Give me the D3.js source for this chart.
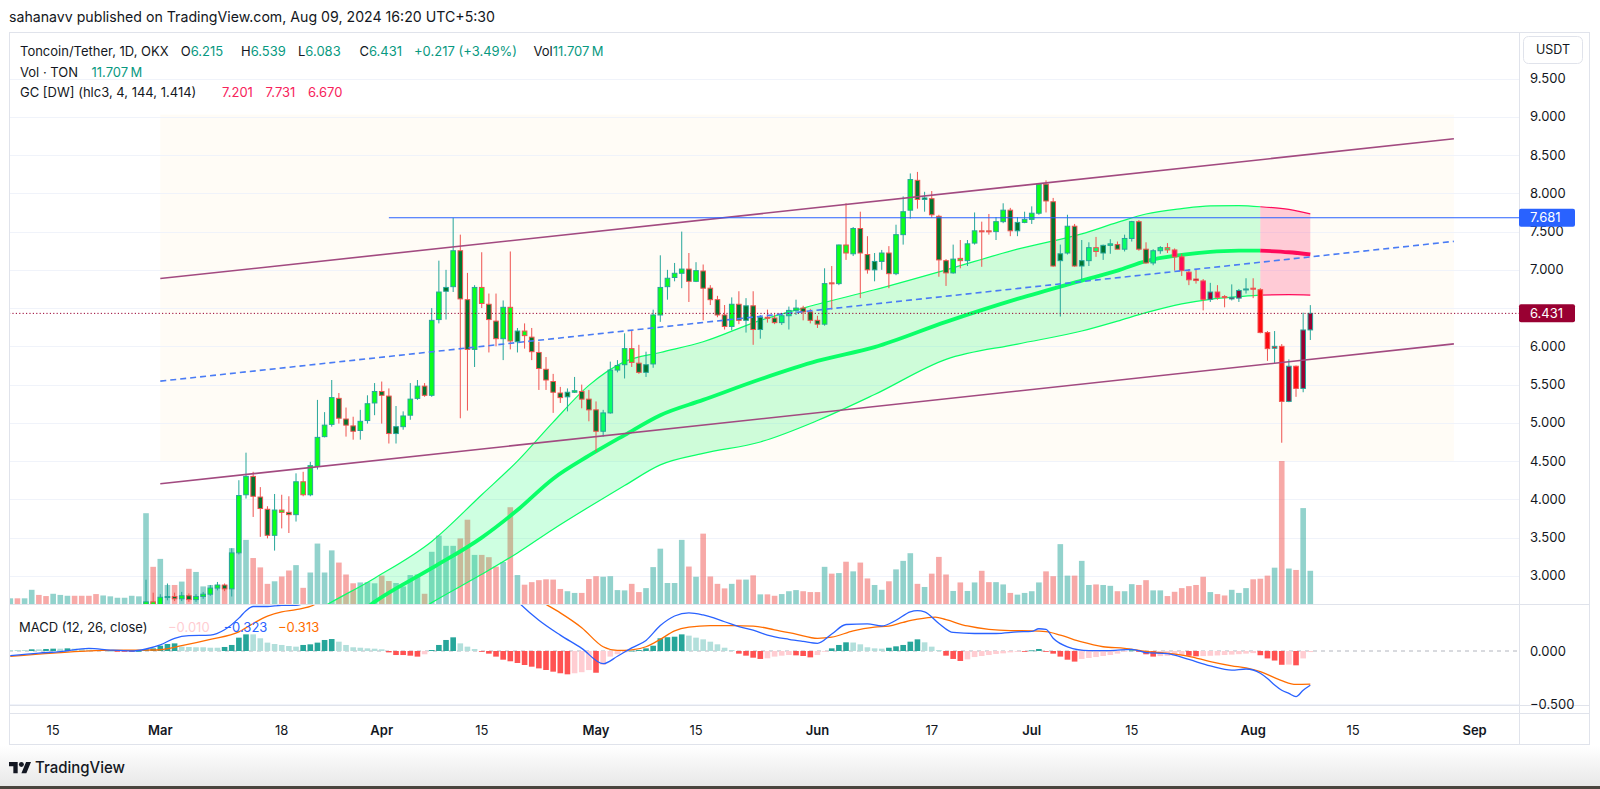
<!DOCTYPE html>
<html><head><meta charset="utf-8">
<script src="https://cdn.jsdelivr.net/npm/d3@7/dist/d3.min.js"></script>
<style>
html,body{margin:0;padding:0;background:#fff;}
svg{display:block;}
</style></head><body>
<svg id="chart" width="1600" height="789"></svg>
<script>
// ---------------- DATA ----------------
// daily candles, first bar = 2024-02-09 (day -21 relative to 2024-03-01), last bar = 2024-08-09
const firstDay = -21;
const opens = [
2.05,2.09,2.06,2.10,2.19,2.14,2.10,2.18,2.22,2.25,2.21,2.17,2.13,2.09,2.14,2.18,2.20,2.23,2.28,2.37,2.66,
2.62,2.72,2.73,2.70,2.74,2.69,2.73,2.76,2.84,2.88,
2.83,3.30,4.06,4.30,4.03,3.87,3.53,3.86,3.83,3.80,
4.23,4.06,4.43,4.82,4.98,5.32,5.05,4.96,4.90,5.03,
5.26,5.41,5.35,4.86,4.95,5.10,5.32,5.48,5.36,6.35,
6.72,6.78,7.25,6.61,5.96,6.77,6.55,6.33,6.10,6.51,
6.06,6.20,6.12,5.92,5.70,5.54,5.39,5.34,5.40,5.41,
5.31,5.17,4.89,5.13,5.69,5.76,5.97,5.78,5.66,5.77,
6.41,6.78,6.90,6.955,7.01,6.85,6.985,6.76,6.61,6.41,
6.26,6.55,6.34,6.53,6.22,6.38,6.37,6.31,6.40,6.47,
6.50,6.45,6.34,6.29,6.83,6.82,7.325,7.21,7.54,7.20,
7.00,7.11,7.22,6.95,7.46,7.78,8.17,7.92,7.93,7.70,
7.12,6.96,7.15,7.12,7.35,7.51,7.51,7.50,7.63,7.78,
7.51,7.62,7.66,7.74,8.12,7.89,7.12,7.22,7.57,7.05,
7.12,7.29,7.22,7.32,7.33,7.27,7.41,7.63,7.27,7.09,
7.25,7.29,7.26,7.17,6.97,6.88,6.855,6.615,6.71,6.65,
6.62,6.63,6.74,6.76,6.74,6.18,5.975,6.00,5.28,5.74,
5.45,6.215];
const highs = [
2.12,2.11,2.12,2.22,2.21,2.16,2.20,2.24,2.28,2.27,2.23,2.19,2.15,2.16,2.20,2.22,2.25,2.30,2.40,2.95,2.78,
2.76,2.90,2.78,2.79,2.77,2.76,2.79,2.88,2.92,2.90,
3.36,4.25,4.61,4.36,4.16,3.91,4.07,4.06,4.04,4.34,
4.36,4.49,5.30,5.14,5.56,5.39,5.20,5.08,5.17,5.36,
5.52,5.54,5.45,5.22,5.15,5.52,5.56,5.52,6.50,7.12,
7.00,7.68,7.46,6.96,6.80,7.23,6.69,6.69,6.60,7.24,
6.24,6.30,6.24,6.06,5.86,5.64,5.47,5.45,5.60,5.50,
5.43,5.28,5.17,5.80,5.82,6.17,6.21,6.02,5.93,6.48,
7.19,7.00,7.09,7.50,7.22,7.10,7.07,6.80,6.66,6.54,
6.64,6.72,6.63,6.72,6.41,6.48,6.42,6.43,6.52,6.61,
6.53,6.49,6.40,7.02,7.05,7.33,7.87,7.56,7.76,7.44,
7.22,7.26,7.31,7.59,7.96,8.26,8.28,8.02,8.03,7.72,
7.14,7.33,7.39,7.39,7.75,7.63,7.73,7.69,7.87,7.81,
7.69,7.76,7.83,8.13,8.17,7.94,7.33,7.72,7.60,7.39,
7.36,7.43,7.33,7.40,7.37,7.46,7.64,7.65,7.36,7.27,
7.31,7.35,7.28,7.21,7.01,7.01,6.88,6.83,6.80,6.67,
6.81,6.75,6.89,6.89,6.76,6.20,6.20,6.03,5.83,5.75,
6.44,6.539];
const lows = [
2.02,2.04,2.05,2.08,2.12,2.08,2.09,2.15,2.19,2.18,2.15,2.11,2.07,2.07,2.12,2.16,2.18,2.21,2.26,2.35,2.58,
2.60,2.68,2.67,2.67,2.66,2.66,2.70,2.74,2.81,2.80,
2.73,3.28,4.01,3.77,3.51,3.49,3.33,3.62,3.56,3.71,
4.04,4.04,4.39,4.81,4.95,4.99,4.82,4.78,4.78,4.99,
5.10,4.99,4.73,4.73,4.91,5.04,5.30,5.34,5.34,6.30,
6.35,6.71,5.06,5.16,5.73,6.50,5.92,6.00,5.82,5.96,
5.92,5.97,5.82,5.43,5.43,5.13,5.26,5.15,5.39,5.19,
5.02,4.62,4.82,5.12,5.66,5.58,5.73,5.64,5.60,5.72,
6.32,6.61,6.85,6.76,6.58,6.84,6.34,6.54,6.38,6.22,
6.21,6.29,6.18,6.02,6.10,6.31,6.29,6.28,6.22,6.41,
6.34,6.30,6.24,6.27,6.48,6.80,7.13,7.18,6.63,6.95,
6.85,7.00,6.76,6.93,7.33,7.67,7.80,7.76,7.68,6.91,
6.79,6.95,7.02,7.05,7.33,7.04,7.46,7.39,7.61,7.44,
7.44,7.61,7.60,7.72,7.75,7.04,6.39,7.20,7.04,6.87,
7.05,7.17,7.13,7.21,7.27,7.24,7.37,7.25,7.08,7.06,
7.21,7.22,6.99,6.92,6.80,6.82,6.47,6.58,6.61,6.51,
6.60,6.58,6.69,6.63,6.17,5.81,5.77,4.74,5.27,5.34,
5.40,6.083];
const closes = [
2.09,2.06,2.10,2.19,2.14,2.10,2.18,2.22,2.25,2.21,2.17,2.13,2.09,2.14,2.18,2.20,2.23,2.28,2.37,2.66,2.62,
2.72,2.73,2.70,2.74,2.69,2.73,2.76,2.84,2.88,2.83,
3.30,4.05,4.30,4.04,3.88,3.53,3.86,3.83,3.80,4.23,
4.06,4.44,4.81,4.97,5.33,5.06,4.97,4.89,5.02,5.25,
5.41,5.36,4.86,4.95,5.09,5.31,5.48,5.36,6.34,6.71,
6.77,7.25,6.62,5.96,6.77,6.56,6.35,6.10,6.51,6.07,
6.20,6.14,5.93,5.71,5.56,5.40,5.33,5.40,5.42,5.31,
5.17,4.89,5.13,5.69,5.75,5.97,5.79,5.66,5.76,6.41,
6.77,6.89,6.955,7.01,6.85,6.99,6.76,6.61,6.41,6.26,
6.55,6.34,6.53,6.22,6.38,6.37,6.31,6.40,6.47,6.50,
6.45,6.34,6.29,6.82,6.82,7.325,7.22,7.54,7.22,7.00,
7.11,7.22,6.95,7.46,7.76,8.18,7.92,7.94,7.72,7.13,
6.96,7.14,7.12,7.34,7.51,7.50,7.50,7.63,7.78,7.51,
7.62,7.66,7.74,8.12,7.90,7.05,7.21,7.57,7.05,7.12,
7.29,7.24,7.32,7.34,7.27,7.41,7.63,7.27,7.09,7.25,
7.29,7.26,7.17,6.99,6.87,6.86,6.615,6.71,6.64,6.64,
6.64,6.73,6.75,6.75,6.18,5.97,6.00,5.28,5.74,5.45,
6.214,6.431];
// volume, millions of TON
const volumes = [
2.0,2.0,2.0,5.0,3.2,2.8,3.6,3.2,2.9,2.9,2.9,2.9,3.5,3.0,2.7,2.2,2.2,2.9,2.7,32.0,13.1,
15.9,6.7,6.7,7.9,12.4,11.3,6.2,6.7,6.7,6.7,
19.7,17.9,22.6,16.2,12.9,7.1,8.0,9.7,11.8,13.7,
5.7,11.1,21.3,11.1,18.9,14.6,10.4,7.3,7.6,7.7,
7.3,10.0,8.1,7.4,6.2,10.2,10.4,3.6,18.4,24.1,
20.5,20.5,23.1,29.7,17.3,17.3,16.5,13.2,14.8,34.1,
10.2,6.8,7.7,8.4,8.7,8.6,5.3,4.5,3.9,3.9,
8.8,9.8,9.6,9.8,4.9,4.8,7.1,4.2,5.6,13.0,
19.5,7.4,7.4,22.6,13.2,9.6,24.8,9.7,7.1,5.5,
7.1,8.6,8.6,10.1,3.4,3.4,2.9,3.5,4.5,4.9,
4.5,4.2,4.2,13.1,10.7,10.9,14.9,11.5,14.6,9.0,
6.7,5.0,8.0,12.2,15.2,17.9,7.1,6.0,10.7,16.6,
10.4,4.6,7.6,4.6,7.6,11.7,7.7,7.7,6.9,3.9,
3.3,3.9,4.5,7.6,11.5,9.8,21.1,10.0,10.0,15.2,
6.7,6.9,6.7,6.4,4.5,4.5,7.0,6.7,8.4,4.8,
4.8,2.8,4.3,5.6,6.3,6.7,9.6,4.2,3.5,3.0,
5.0,3.9,5.6,8.7,8.9,10.0,12.8,50.4,12.5,12.0,
33.8,11.707];
// MACD histogram, daily, same first bar
const histVals = [
.009,.009,.009,.016,.016,.019,.022,.022,.025,.022,.019,.013,.009,.009,0,-.006,-.006,-.006,0,.016,.025,
.05,.066,.072,.041,.038,.035,.035,.031,.031,.038,
.057,.126,.157,.157,.12,.079,.066,.057,.047,.041,
.057,.063,.079,.104,.113,.088,.057,.035,.031,.025,
.022,.016,-.013,-.038,-.038,-.044,-.053,-.031,.009,.057,
.104,.129,.072,.041,.019,-.003,-.025,-.053,-.082,-.097,
-.113,-.132,-.148,-.164,-.179,-.195,-.21,-.22,-.21,-.2,
-.18,-.205,-.13,-.053,-.03,-.013,.003,.009,.025,.05,
.12,.13,.135,.157,.145,.126,.11,.088,.063,.031,
.009,-.025,-.044,-.063,-.075,-.069,-.053,-.044,-.038,-.041,
-.047,-.06,-.038,-.006,.025,.057,.082,.08,.063,.035,
.025,.022,.031,.044,.057,.088,.11,.082,.041,.009,
-.044,-.075,-.094,-.079,-.057,-.047,-.038,-.028,-.022,-.013,
-.006,-.006,.006,.019,-.003,-.025,-.053,-.082,-.1,-.075,
-.066,-.057,-.047,-.038,-.025,-.006,.006,-.006,-.031,-.053,
-.048,-.045,-.043,-.041,-.045,-.05,-.048,-.045,-.042,-.038,
-.034,-.03,-.025,-.02,-.04,-.07,-.09,-.13,-.128,-.135,
-.07,-.01];
// MACD line and signal line (day offset from 2024-03-01, value)
const macdDay = [-21,-17,-14,-10,-7,-4,-2,0,2,4,7,9,11,12,13,15,17,19,21,24,28,32,36,39,42,45,48,50,53,56,59,62,64,66,68,70,72,74,76,79,81,83,85,88,90,92,94,96,99,101,103,105,106,107,109,111,114,117,120,122,123,124,125,127,130,133,136,138,141,144,147,150,152,154,155,156,157,158,159,160,161];
const macdVal = [-0.044,-0.02,-0.006,0.025,0.009,0.0,0.019,0.057,0.12,0.145,0.15,0.2,0.31,0.38,0.42,0.42,0.43,0.43,0.48,0.6,0.64,0.58,0.56,0.66,0.78,0.72,0.62,0.47,0.29,0.15,0.025,-0.12,-0.05,0.03,0.10,0.24,0.33,0.36,0.34,0.276,0.23,0.198,0.15,0.11,0.09,0.072,0.16,0.25,0.255,0.236,0.29,0.37,0.38,0.37,0.26,0.175,0.165,0.165,0.18,0.185,0.21,0.205,0.12,0.04,0.004,0.004,0.016,-0.015,-0.024,-0.08,-0.14,-0.18,-0.17,-0.21,-0.26,-0.32,-0.37,-0.40,-0.43,-0.37,-0.323];
const signalDay = [-21,-15,-8,-2,0,3,7,11,13,15,17,19,21,23,28,34,40,45,50,53,54,56,59,62,64,66,68,70,72,74,77,80,83,86,89,92,94,97,100,102,104,106,108.5,110,113,116,119,122,124,126,129,132,135,138,141,144,147,150,152,154,157,159,161];
const signalVal = [-0.05,-0.02,0.005,0.009,0.012,0.05,0.11,0.18,0.26,0.33,0.37,0.39,0.42,0.49,0.58,0.6,0.62,0.7,0.6,0.48,0.44,0.36,0.22,0.04,0.005,0.01,0.04,0.11,0.19,0.225,0.24,0.24,0.235,0.2,0.16,0.12,0.13,0.19,0.225,0.235,0.27,0.30,0.32,0.295,0.236,0.204,0.192,0.19,0.182,0.15,0.085,0.04,0.025,-0.004,-0.022,-0.05,-0.10,-0.14,-0.16,-0.195,-0.28,-0.315,-0.313];
// Gaussian Channel [DW] (hlc3, 4, 144, 1.414)
const gcDay   = [14,22,30,38,45,50,55,60,65,70,76,84,92,100,110,120,129,134,138,143,147,151,154,158,161];
const gcUpper = [2.05,2.55,2.97,3.45,4.06,4.50,5.01,5.49,5.80,5.92,6.06,6.34,6.55,6.74,7.00,7.27,7.47,7.62,7.73,7.80,7.835,7.84,7.825,7.79,7.731];
const gcMid   = [1.70,2.05,2.66,3.10,3.50,3.86,4.27,4.57,4.84,5.10,5.30,5.57,5.81,5.99,6.32,6.62,6.86,6.99,7.115,7.195,7.235,7.25,7.252,7.23,7.201];
const gcLower = [1.30,1.70,2.16,2.65,3.02,3.30,3.61,3.90,4.18,4.45,4.60,4.75,5.03,5.37,5.83,6.03,6.20,6.33,6.44,6.555,6.615,6.65,6.67,6.675,6.670];
// user drawings
const channelDays = [0, 181.1];
const channelUpper = [6.886, 8.713];
const channelLower = [4.204, 6.032];
const boxPrices = [4.5, 9.03];
const hLinePrice = 7.681, hLineStartDay = 32;
const lastPrice = 6.431;
// axes
const priceTicks = [3.0,3.5,4.0,4.5,5.0,5.5,6.0,6.5,7.0,7.5,8.0,8.5,9.0,9.5];
const macdTicks = [0, -0.5];
const timeTickDays = [-15,0,17,31,45,61,75,92,108,122,136,153,167,184];
const timeTickLabels = ["15","Mar","18","Apr","15","May","15","Jun","17","Jul","15","Aug","15","Sep"];
const timeTickMonth = [false,true,false,true,false,true,false,true,false,true,false,true,false,true];

// ---------------- LAYOUT ----------------
const FONT = 'Inter, "Noto Sans", Roboto, "DejaVu Sans", sans-serif';
const PL = 9, PR = 1519, FR = 1590;
const mainTop = 32, mainBot = 604, macdTop = 605, macdBot = 705, axTop = 713, axBot = 745;
const UP = '#26a69a', DN = '#ef5350';

const baseMs = Date.UTC(2024, 2, 1);
const toDate = d => new Date(baseMs + d * 864e5);
const x = d3.scaleUtc().domain([toDate(0), toDate(184)]).range([160.3, 1474.6]);
const X = d => x(toDate(d));
const y = d3.scaleLinear().domain([2.632, 10.109]).range([mainBot, mainTop]);
const yM = d3.scaleLinear().domain([-0.5094, 0.434]).range([macdBot, macdTop]);
const yV = d3.scaleLinear().domain([0, 50.4]).range([mainBot, 461]);

const svg = d3.select('#chart').attr('font-family', FONT);
const defs = svg.append('defs');
defs.append('clipPath').attr('id','clipMain').append('rect')
  .attr('x',PL).attr('y',mainTop).attr('width',PR-PL).attr('height',mainBot-mainTop);
defs.append('clipPath').attr('id','clipMacd').append('rect')
  .attr('x',PL).attr('y',macdTop).attr('width',PR-PL).attr('height',macdBot-macdTop);
const grad = defs.append('linearGradient').attr('id','bottomFade').attr('x1',0).attr('x2',0).attr('y1',0).attr('y2',1);
grad.append('stop').attr('offset','0%').attr('stop-color','#ffffff');
grad.append('stop').attr('offset','100%').attr('stop-color','#e8e8e8');

svg.append('rect').attr('width',1600).attr('height',789).attr('fill','#fff');
svg.append('rect').attr('x',0).attr('y',746).attr('width',1600).attr('height',40).attr('fill','url(#bottomFade)');
svg.append('rect').attr('x',0).attr('y',786).attr('width',1600).attr('height',3).attr('fill','#4a453e');

const candles = opens.map((o,i)=>({d:firstDay+i,o,h:highs[i],l:lows[i],c:closes[i],v:volumes[i],hist:histVals[i]}));

// ---------- main pane ----------
const gMain = svg.append('g').attr('clip-path','url(#clipMain)');
// rectangle drawing background
gMain.append('rect').attr('x',X(channelDays[0])).attr('width',X(channelDays[1])-X(channelDays[0]))
  .attr('y',y(boxPrices[1])).attr('height',y(boxPrices[0])-y(boxPrices[1]))
  .attr('fill','#fffcf6');
// grid
gMain.selectAll('line.grid').data(priceTicks).join('line')
  .attr('x1',PL).attr('x2',PR).attr('y1',t=>Math.round(y(t))+0.5).attr('y2',t=>Math.round(y(t))+0.5)
  .attr('stroke','#f0f3fa').attr('stroke-width',1);
// volume
const bw = 5.6;
gMain.selectAll('rect.vol').data(candles).join('rect')
  .attr('x',d=>X(d.d)-bw/2).attr('width',bw)
  .attr('y',d=>yV(d.v)).attr('height',d=>mainBot-yV(d.v))
  .attr('fill',d=>d.c>=d.o?'rgba(38,166,154,0.5)':'rgba(239,83,80,0.5)');

// Gaussian channel
const gcPts = gcDay.map((d,i)=>({d,u:gcUpper[i],m:gcMid[i],l:gcLower[i]}));
let split = gcPts.length-1;
for (let i=1;i<gcPts.length;i++){ if (gcPts[i].m < gcPts[i-1].m){ split = i-1; break; } }
const greenPts = gcPts.slice(0, split+1), redPts = gcPts.slice(split);
const area = d3.area().x(p=>X(p.d)).y0(p=>y(p.l)).y1(p=>y(p.u)).curve(d3.curveMonotoneX);
const lineU = d3.line().x(p=>X(p.d)).y(p=>y(p.u)).curve(d3.curveMonotoneX);
const lineM = d3.line().x(p=>X(p.d)).y(p=>y(p.m)).curve(d3.curveMonotoneX);
const lineL = d3.line().x(p=>X(p.d)).y(p=>y(p.l)).curve(d3.curveMonotoneX);
[[greenPts,'#0aff68'],[redPts,'#ff0a5a']].forEach(([pts,col])=>{
  gMain.append('path').attr('d',area(pts)).attr('fill',col).attr('fill-opacity',0.2);
  gMain.append('path').attr('d',lineU(pts)).attr('fill','none').attr('stroke',col).attr('stroke-width',1.2);
  gMain.append('path').attr('d',lineL(pts)).attr('fill','none').attr('stroke',col).attr('stroke-width',1.2);
  gMain.append('path').attr('d',lineM(pts)).attr('fill','none').attr('stroke',col).attr('stroke-width',3.8);
});

// bar colours of the Gaussian channel
function interp(days, vals, d){
  if (d <= days[0]) return vals[0];
  for (let i=1;i<days.length;i++){
    if (d <= days[i]){ const t=(d-days[i-1])/(days[i]-days[i-1]); return vals[i-1]+t*(vals[i]-vals[i-1]); }
  }
  return vals[vals.length-1];
}
candles.forEach((k,i)=>{
  const src=(k.h+k.l+k.c)/3;
  const p = i>0 ? (candles[i-1].h+candles[i-1].l+candles[i-1].c)/3 : src;
  const f = interp(gcDay,gcMid,k.d), hb = interp(gcDay,gcUpper,k.d), lb = interp(gcDay,gcLower,k.d);
  let col = '#cccccc';
  if (src>p && src>f && src<hb) col='#0aff68';
  else if (src>p && src>=hb) col='#0aff1b';
  else if (src<=p && src>f) col='#00752d';
  else if (src<p && src<f && src>lb) col='#ff0a5a';
  else if (src<p && src<=lb) col='#ff0a11';
  else if (src>=p && src<f) col='#990032';
  k.fill = col;
});

// candles
const cw = 4.6;
const gC = gMain.append('g');
gC.selectAll('line.wick').data(candles).join('line')
  .attr('x1',d=>X(d.d)).attr('x2',d=>X(d.d)).attr('y1',d=>y(d.h)).attr('y2',d=>y(d.l))
  .attr('stroke',d=>d.c>=d.o?UP:DN).attr('stroke-width',1);
gC.selectAll('rect.body').data(candles).join('rect')
  .attr('x',d=>X(d.d)-cw/2).attr('width',cw)
  .attr('y',d=>y(Math.max(d.o,d.c)))
  .attr('height',d=>Math.max(1,y(Math.min(d.o,d.c))-y(Math.max(d.o,d.c))))
  .attr('fill',d=>d.fill).attr('stroke',d=>d.c>=d.o?UP:DN).attr('stroke-width',1);

// parallel channel drawing
const chMid = [(channelUpper[0]+channelLower[0])/2,(channelUpper[1]+channelLower[1])/2];
[[channelUpper,'#a24a80',null],[channelLower,'#a24a80',null],[chMid,'#4a7cf5','6,4']].forEach(([v,col,dash])=>{
  const ln = gMain.append('line').attr('x1',X(channelDays[0])).attr('x2',X(channelDays[1]))
    .attr('y1',y(v[0])).attr('y2',y(v[1])).attr('stroke',col).attr('stroke-width',1.6);
  if (dash) ln.attr('stroke-dasharray',dash);
});
// horizontal ray
gMain.append('line').attr('x1',X(hLineStartDay)).attr('x2',PR).attr('y1',y(hLinePrice)).attr('y2',y(hLinePrice))
  .attr('stroke','#2962ff').attr('stroke-width',1.2);
// last price line
gMain.append('line').attr('x1',PL).attr('x2',PR).attr('y1',y(lastPrice)).attr('y2',y(lastPrice))
  .attr('stroke','#990032').attr('stroke-width',1).attr('stroke-dasharray','1.2,2.2');

// ---------- MACD pane ----------
const gM = svg.append('g').attr('clip-path','url(#clipMacd)');
gM.append('line').attr('x1',PL).attr('x2',PR).attr('y1',Math.round(yM(-0.5))+0.5).attr('y2',Math.round(yM(-0.5))+0.5)
  .attr('stroke','#f0f3fa');
gM.append('line').attr('x1',PL).attr('x2',PR).attr('y1',yM(0)).attr('y2',yM(0))
  .attr('stroke','#b2b5be').attr('stroke-width',1).attr('stroke-dasharray','4,4');
gM.selectAll('rect.h').data(candles).join('rect')
  .attr('x',d=>X(d.d)-2.8).attr('width',5.6)
  .attr('y',d=>Math.min(yM(0),yM(d.hist))).attr('height',d=>Math.max(0.8,Math.abs(yM(d.hist)-yM(0))))
  .attr('fill',(d,i)=>{
    const prev = i>0?candles[i-1].hist:d.hist;
    if (d.hist>=0) return prev<d.hist?'#26a69a':'#b2dfdb';
    return prev<d.hist?'#ffcdd2':'#ff5252';
  });
const mLine = d3.line().x(p=>X(p[0])).y(p=>yM(p[1])).curve(d3.curveMonotoneX);
gM.append('path').attr('d',mLine(signalDay.map((d,i)=>[d,signalVal[i]]))).attr('fill','none').attr('stroke','#ff6d00').attr('stroke-width',1.3);
gM.append('path').attr('d',mLine(macdDay.map((d,i)=>[d,macdVal[i]]))).attr('fill','none').attr('stroke','#2962ff').attr('stroke-width',1.3);

// ---------- frame ----------
const frame = svg.append('g').attr('stroke','#e0e3eb').attr('stroke-width',1).attr('fill','none');
frame.append('rect').attr('x',PL+0.5).attr('y',mainTop+0.5).attr('width',FR-PL-1).attr('height',axBot-mainTop-1);
frame.append('line').attr('x1',PR+0.5).attr('x2',PR+0.5).attr('y1',mainTop).attr('y2',axBot);
frame.append('line').attr('x1',PL).attr('x2',FR).attr('y1',mainBot+0.5).attr('y2',mainBot+0.5);
frame.append('line').attr('x1',PL).attr('x2',FR).attr('y1',macdBot+0.5).attr('y2',macdBot+0.5);
frame.append('line').attr('x1',PL).attr('x2',FR).attr('y1',axTop+0.5).attr('y2',axTop+0.5);

// ---------- axes ----------
const fmt = v => (v<0?'\u2212':'') + Math.abs(v).toFixed(3);
const tagPrices = [hLinePrice, lastPrice];
// price-scale labels hidden where a tag box sits on top of them
const visibleTicks = priceTicks.filter(t0 => tagPrices.every(p => Math.abs(y(t0)-y(p)) > 10));
svg.append('g').selectAll('text').data(visibleTicks).join('text')
  .attr('x',1530).attr('y',t=>y(t)).attr('dy','0.35em').attr('font-size',13).attr('fill','#131722').text(fmt);
svg.append('g').selectAll('text').data(macdTicks).join('text')
  .attr('x',1530).attr('y',t=>yM(t)).attr('dy','0.35em').attr('font-size',13).attr('fill','#131722').text(fmt);
function priceTag(v,col){
  const yy = y(v);
  svg.append('rect').attr('x',PR).attr('y',yy-9).attr('width',56).attr('height',18).attr('rx',2).attr('fill',col);
  svg.append('text').attr('x',1530).attr('y',yy).attr('dy','0.35em').attr('font-size',13).attr('fill','#fff').text(fmt(v));
}
priceTag(hLinePrice,'#2962ff');
priceTag(lastPrice,'#990032');
svg.append('rect').attr('x',1523.5).attr('y',36.5).attr('width',59).attr('height',27).attr('rx',5)
  .attr('fill','#fff').attr('stroke','#e0e3eb');
svg.append('text').attr('x',1553).attr('y',50).attr('dy','0.35em').attr('text-anchor','middle')
  .attr('font-size',12.5).attr('fill','#131722').text('USDT');
svg.append('g').selectAll('text').data(timeTickDays).join('text')
  .attr('x',d=>X(d)).attr('y',730).attr('dy','0.35em').attr('text-anchor','middle')
  .attr('font-size',13).attr('fill','#131722')
  .attr('font-weight',(d,i)=>timeTickMonth[i]?600:400)
  .text((d,i)=>timeTickLabels[i]);

// ---------- legends ----------
const DK = '#131722', G='#089981', RD='#f7235b';
function seg(xp,yp,parts,size,weight){
  const tx = svg.append('text').attr('x',xp).attr('y',yp).attr('dy','0.35em')
    .attr('font-size',size||13).attr('font-weight',weight||400);
  parts.forEach(([s,c])=>tx.append('tspan').attr('fill',c||DK).text(s));
  return tx;
}
seg(9,17,[['sahanavv published on TradingView.com, Aug 09, 2024 16:20 UTC+5:30']],14.5)
  .attr('textLength',486).attr('lengthAdjust','spacingAndGlyphs');
seg(20,51.5,[['Toncoin/Tether, 1D, OKX']]);
seg(180.8,51.5,[['O'],['6.215',G]]);
seg(241,51.5,[['H'],['6.539',G]]);
seg(298,51.5,[['L'],['6.083',G]]);
seg(359.4,51.5,[['C'],['6.431',G]]);
seg(414,51.5,[['+0.217 (+3.49%)',G]]);
seg(533.5,51.5,[['Vol'],['11.707\u2009M',G]]);
seg(20,72.4,[['Vol \u00b7 TON']]);
seg(91.5,72.4,[['11.707\u2009M',G]]);
seg(20,92,[['GC [DW] (hlc3, 4, 144, 1.414)']]);
seg(222,92,[['7.201',RD]]); seg(265.6,92,[['7.731',RD]]); seg(308,92,[['6.670',RD]]);
seg(19,627,[['MACD (12, 26, close)']]);
seg(168,627,[['\u22120.010','#ffcdd2']]); seg(223.5,627,[['\u22120.323','#2962ff']]); seg(278,627,[['\u22120.313','#ff6d00']]);

// TradingView logo
const logo = svg.append('g').attr('transform','translate(9,759.5) scale(0.62)').attr('fill','#131722');
logo.append('path').attr('d','M14 22H7V11H0V4h14v18zM28 22h-8l7.5-18h8L28 22z');
logo.append('circle').attr('cx',20).attr('cy',8).attr('r',4);
seg(35,767,[['TradingView']],16.5,500).attr('textLength',90).attr('lengthAdjust','spacingAndGlyphs');
</script></body></html>
